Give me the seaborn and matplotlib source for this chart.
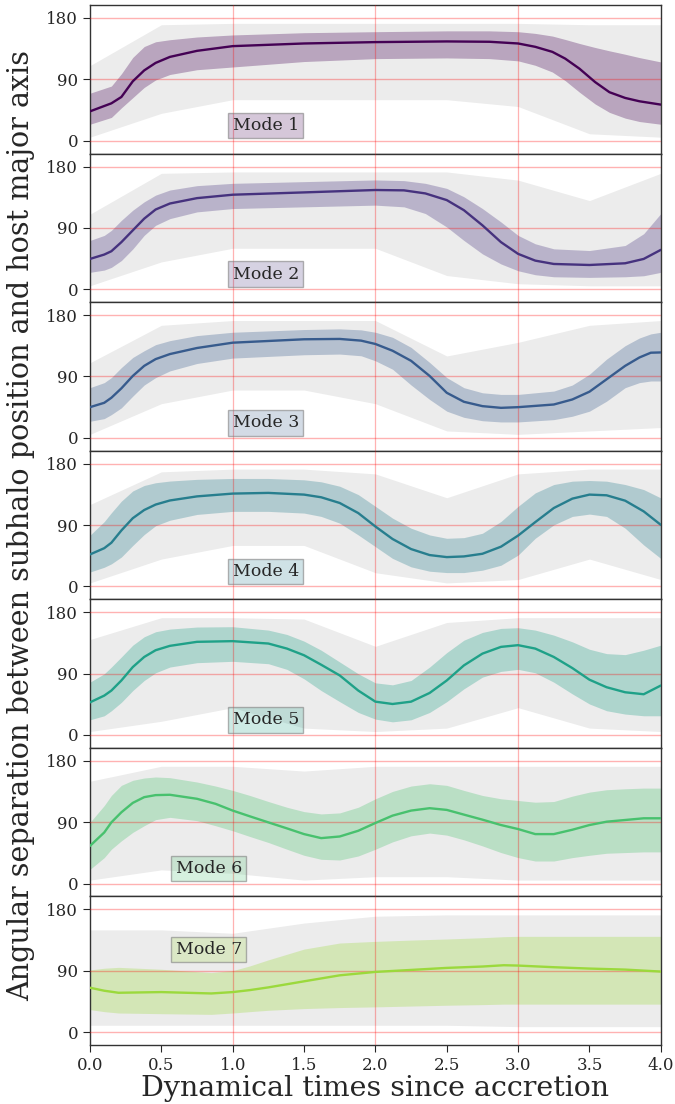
import numpy as np
import pandas as pd
import matplotlib
matplotlib.use("Agg")
import matplotlib.pyplot as plt
import seaborn as sns

# ---------------- data ----------------
MODE_NAMES = ["Mode 1", "Mode 2", "Mode 3", "Mode 4", "Mode 5", "Mode 6", "Mode 7"]

M1_T = [0, 0.15, 0.22, 0.3, 0.38, 0.46, 0.56, 0.75, 1, 1.5, 2, 2.5, 2.8, 3.0, 3.12, 3.24,
        3.33, 3.43, 3.54, 3.64, 3.75, 3.85, 4]
M1_MEAN = [42.9, 54.7, 64, 87, 103, 114, 122.8, 131.7, 138.6, 142.5, 144.5, 145.5, 145, 142.5,
           137.6, 130.2, 120.3, 105.5, 85.8, 71, 62.6, 57.7, 52.8]
M1_HI = [69.5, 80, 98, 122, 138, 145, 148, 152, 155, 158.3, 159.8, 161, 161, 159.8, 157.3,
         153.4, 148.4, 142.5, 136.6, 131.7, 126.7, 121.8, 115.4]
M1_LO = [24, 34, 48, 63, 78, 89, 97, 104, 108, 116, 120.3, 121.3, 120.3, 117, 110.5, 100.6,
         88, 71, 53.7, 41.4, 33, 28, 24]

M2_T = [0, 0.1, 0.15, 0.22, 0.3, 0.38, 0.46, 0.56, 0.75, 1, 1.5, 2, 2.2, 2.35, 2.5, 2.62,
        2.75, 2.88, 3.0, 3.12, 3.25, 3.5, 3.75, 3.88, 4]
M2_MEAN = [44.4, 50.8, 55.7, 69, 86.3, 103.5, 116.9, 125.7, 133.6, 138.6, 142, 145.5, 145,
           140.5, 130.7, 115.9, 93.7, 69, 51.8, 41.9, 37, 35.5, 38, 44.4, 57.7]
M2_HI = [71.5, 78.9, 86.3, 101, 115.9, 128.2, 138, 145.5, 151.9, 155.3, 157.8, 160.3, 159.3,
         155.3, 147.9, 135.6, 118.3, 98.6, 78.9, 66.6, 59.2, 56.7, 64.1, 81.4, 111]
M2_LO = [24.7, 28, 32, 42, 59, 79, 93.7, 103.5, 113.4, 118.3, 120.8, 123.3, 120.8, 111, 91.2,
         71.5, 51.8, 37, 27, 21.2, 18.2, 17.3, 18.2, 19.7, 24.7]

M3_T = [0, 0.1, 0.15, 0.22, 0.3, 0.38, 0.46, 0.56, 0.75, 1, 1.5, 1.75, 1.9, 2.0, 2.12, 2.25,
        2.38, 2.5, 2.62, 2.75, 2.88, 3.0, 3.25, 3.38, 3.5, 3.62, 3.75, 3.85, 3.93, 4]
M3_MEAN = [44.9, 51.3, 58.7, 72.5, 90.7, 105.5, 115.4, 122.8, 131.7, 139.5, 144.5, 145, 142.5,
           137.6, 127.7, 112.9, 90.7, 66, 52.8, 46.4, 43.9, 44.9, 48.8, 56.2, 67.6, 85.8,
           105.5, 117.8, 124.8, 125.2]
M3_HI = [73.5, 80.9, 88.3, 103, 117.8, 127.7, 136.6, 142.5, 149.9, 154.8, 158.8, 159.8, 158.3,
         154.8, 147.4, 132.6, 110.5, 88.3, 73.5, 66, 63.6, 63.6, 68.5, 77.4, 93.2, 115.4,
         135.1, 146.4, 152.4, 154.8]
M3_LO = [24.2, 28.1, 34, 43.9, 61.1, 77.4, 88.3, 98.1, 109, 116.9, 121.8, 122.8, 120.3, 112.9,
         100.6, 77.4, 56.2, 39, 30, 25, 23.2, 23.2, 26.6, 31.6, 39, 53.7, 73.5, 80.9, 83.3,
         83.3]

M4_T = [0, 0.1, 0.15, 0.22, 0.3, 0.38, 0.46, 0.56, 0.75, 1, 1.25, 1.5, 1.62, 1.75, 1.88, 2.0,
        2.12, 2.25, 2.38, 2.5, 2.62, 2.75, 2.88, 3.0, 3.12, 3.25, 3.38, 3.5, 3.62, 3.75, 3.88, 4]
M4_MEAN = [46.8, 56, 64, 82, 100, 112, 120, 126, 132, 136.1, 137.1, 134.6, 130.7, 122.3, 107.5,
           87.8, 69.5, 54.7, 45.9, 42.9, 43.9, 47.8, 58.2, 74.5, 94.2, 114.9, 128.7, 134.6,
           133.6, 125.7, 110, 90.2]
M4_HI = [75, 95, 108, 125, 140, 148, 152, 154.5, 157, 158.3, 158.3, 156.3, 153.4, 146.9, 134.6,
         117.4, 100.1, 85.3, 75.4, 70.5, 71.5, 77.9, 95.2, 117.4, 137.1, 149.4, 154.3, 155.3,
         154.3, 149.4, 142, 129.7]
M4_LO = [21, 28, 33, 43, 60, 76, 89, 97, 105.5, 110, 110, 107.5, 102.6, 92.7, 75.4, 58.2, 41,
         28.6, 22.2, 20.2, 20.2, 23.7, 31, 45.9, 70.5, 90.2, 102.6, 106, 102.6, 85.3, 60.7, 40.9]

M5_T = [0, 0.1, 0.15, 0.22, 0.3, 0.38, 0.46, 0.56, 0.75, 1, 1.25, 1.38, 1.5, 1.62, 1.75, 1.88,
        2.0, 2.12, 2.25, 2.38, 2.5, 2.62, 2.75, 2.88, 3.0, 3.12, 3.25, 3.38, 3.5, 3.62, 3.75,
        3.88, 4]
M5_MEAN = [47.8, 57.7, 65.1, 79.9, 99.6, 114.4, 124.3, 130.7, 136.6, 137.6, 134.1, 126.7, 116.9,
           103, 87.3, 65.1, 48.8, 45.4, 48.8, 61.6, 79.9, 102, 119.3, 129.2, 131.7, 126.7,
           114.4, 98.1, 81, 70, 62.6, 59.7, 72.5]
M5_HI = [77.4, 89.7, 99.6, 114.4, 131.7, 144, 151.4, 155.3, 158.3, 158.8, 153.8, 147.4, 137.6,
         124.3, 107, 89.7, 76.4, 73.5, 79.9, 99.6, 120.8, 139, 150.4, 156.3, 157.3, 153.8,
         146.4, 136.6, 125.7, 119.3, 117.8, 124.3, 131.7]
M5_LO = [22.2, 28.1, 35.5, 47.8, 65.1, 79.9, 91.2, 99.6, 106, 108, 104.5, 96.2, 82.3, 65.1,
         48.8, 33, 23.2, 19.2, 22.2, 33, 48.8, 67.6, 84.8, 93.2, 96.2, 91.2, 77.4, 60.2, 45.4,
         35.5, 30.6, 28.1, 28.1]

M6_T = [0, 0.1, 0.15, 0.22, 0.3, 0.38, 0.46, 0.56, 0.75, 0.88, 1.0, 1.12, 1.25, 1.38, 1.5,
        1.62, 1.75, 1.88, 2.0, 2.12, 2.25, 2.38, 2.5, 2.62, 2.75, 2.88, 3.0, 3.12, 3.25, 3.38,
        3.5, 3.62, 3.75, 3.88, 4]
M6_MEAN = [55.2, 74.9, 89.7, 104.5, 118.3, 126.7, 129.7, 130.2, 124.3, 116.9, 107, 98.6, 89.7,
           80.9, 72.5, 66.6, 69, 77.4, 88.8, 99.6, 107, 110.5, 108, 101.1, 93.7, 85.8, 79.9,
           72.5, 72.5, 78.9, 85.8, 90.7, 93.2, 95.7, 95.7]
M6_HI = [89.7, 114.4, 129.2, 144, 151.4, 154.8, 156.3, 155.3, 148.9, 143, 136.6, 129.2, 120.3,
         111.9, 105.5, 102.1, 103.6, 111.9, 124.3, 135.1, 143, 146.4, 144, 136.6, 129.2, 124.3,
         121.8, 119.3, 120.3, 128.2, 134.1, 137.6, 139, 140, 140]
M6_LO = [20.7, 38, 50.3, 62.6, 75, 84.8, 93.7, 97.1, 92.2, 84.8, 77.4, 69, 60.2, 50.3, 41.4,
         35.5, 34.5, 40.4, 50.3, 61.1, 70, 74, 71, 64.1, 55.2, 45.4, 38, 33, 33, 38, 41.4, 44.4,
         45.4, 46.4, 46.4]

M7_T = [0, 0.1, 0.2, 0.5, 0.85, 1, 1.12, 1.25, 1.5, 1.75, 2, 2.25, 2.5, 2.75, 2.9, 3, 3.25,
        3.5, 3.75, 4]
M7_MEAN = [65.1, 60.7, 57.7, 58.7, 56.7, 58.7, 61.6, 65.6, 74.5, 83.3, 88.3, 91.2, 94.2, 96.2,
           98.1, 97.6, 95.2, 93.2, 91.7, 88.8]
M7_HI = [91.2, 93.7, 95, 92.2, 87.3, 90.2, 97.1, 106, 121.8, 130.7, 133.1, 135, 136.6, 138.5,
         140, 140.5, 140.5, 140.5, 140.5, 140.5]
M7_LO = [33, 30, 28, 27, 26, 28, 30, 32, 34.5, 36, 37, 38.2, 39.4, 40.3, 41, 41, 41, 41, 41, 41]

# outer extent of the grey individual tracks
ENV_T = [0, 0.5, 1, 1.5, 2, 2.5, 3, 3.5, 4]
E1_HI = [110, 170, 172, 172, 172, 172, 172, 170, 170]
E1_LO = [5, 40, 60, 60, 60, 60, 50, 10, 5]
E2_HI = [110, 170, 172, 172, 172, 172, 160, 130, 170]
E2_LO = [5, 40, 60, 60, 60, 20, 8, 5, 5]
E3_HI = [110, 165, 172, 172, 172, 120, 140, 165, 172]
E3_LO = [5, 50, 70, 70, 50, 10, 5, 10, 15]
E4_HI = [120, 168, 172, 172, 165, 130, 165, 172, 172]
E4_LO = [5, 40, 60, 60, 20, 5, 10, 40, 10]
E5_HI = [140, 172, 172, 170, 130, 165, 172, 172, 172]
E5_LO = [5, 20, 40, 10, 5, 10, 40, 10, 5]
E6_HI = [150, 172, 172, 165, 172, 172, 172, 172, 172]
E6_LO = [5, 20, 15, 5, 10, 10, 5, 5, 5]
E7_HI = [150, 150, 145, 160, 170, 172, 172, 172, 172]
E7_LO = [10, 10, 10, 10, 10, 10, 8, 8, 8]

LABEL_X = [1.0, 1.0, 1.0, 1.0, 1.0, 0.6, 0.6]
LABEL_Y = [22, 22, 22, 22, 22, 22, 121]

Y_TICKS = [0, 90, 180]
X_TICKS = [0.0, 0.5, 1.0, 1.5, 2.0, 2.5, 3.0, 3.5, 4.0]

MODES = [
    (M1_T, M1_MEAN, M1_LO, M1_HI, E1_LO, E1_HI),
    (M2_T, M2_MEAN, M2_LO, M2_HI, E2_LO, E2_HI),
    (M3_T, M3_MEAN, M3_LO, M3_HI, E3_LO, E3_HI),
    (M4_T, M4_MEAN, M4_LO, M4_HI, E4_LO, E4_HI),
    (M5_T, M5_MEAN, M5_LO, M5_HI, E5_LO, E5_HI),
    (M6_T, M6_MEAN, M6_LO, M6_HI, E6_LO, E6_HI),
    (M7_T, M7_MEAN, M7_LO, M7_HI, E7_LO, E7_HI),
]

# ---------------- style ----------------
sns.set_style("ticks")
plt.rcParams['font.family'] = ['DejaVu Serif']
plt.rcParams['axes.edgecolor'] = '#333333'
plt.rcParams['axes.linewidth'] = 1.0

cmap = plt.get_cmap('viridis')
colors = [cmap(v) for v in np.linspace(0, 0.85, 7)]

fig, axes = plt.subplots(7, 1, figsize=(6.75, 11.04), dpi=100, sharex=True)
fig.subplots_adjust(left=0.1333, right=0.979, top=0.9955, bottom=0.0534, hspace=0)

for i, ax in enumerate(axes):
    t, mean, lo, hi, elo, ehi = MODES[i]
    c = colors[i]
    ax.fill_between(ENV_T, elo, ehi, color='0.5', alpha=0.15, lw=0, zorder=1)
    ax.fill_between(t, lo, hi, color=c, alpha=0.3, lw=0, zorder=2)
    df = pd.DataFrame({"t": t, "mean": mean})
    sns.lineplot(data=df, x="t", y="mean", ax=ax, color=c, lw=1.7, zorder=4)
    for yv in Y_TICKS:
        ax.axhline(yv, color='red', alpha=0.3, lw=1.0, zorder=3)
    for xv in (1, 2, 3):
        ax.axvline(xv, color='red', alpha=0.3, lw=0.9, zorder=3)
    ax.text(LABEL_X[i], LABEL_Y[i], MODE_NAMES[i], fontsize=12.5, va='center', ha='left',
            zorder=5,
            bbox=dict(boxstyle='square,pad=0.25', facecolor=(*c[:3], 0.22),
                      edgecolor=(0.5, 0.5, 0.5, 0.6), lw=1))
    ax.set_ylim(-19, 199)
    ax.set_xlim(0, 4)
    ax.set_yticks(Y_TICKS)
    ax.set_ylabel("")
    ax.set_xlabel("")
    ax.tick_params(axis='y', labelsize=12, length=5, direction='out')
    if i < 6:
        ax.tick_params(axis='x', length=0, labelbottom=False)

axes[-1].set_xticks(X_TICKS)
axes[-1].set_xticklabels([f"{v:.1f}" for v in X_TICKS])
axes[-1].tick_params(axis='x', labelsize=12, length=5)
axes[-1].set_xlabel("Dynamical times since accretion", fontsize=20.5, labelpad=1)

fig.text(0.032, 0.524, "Angular separation between subhalo position and host major axis",
         rotation=90, va='center', ha='center', fontsize=20.6)

fig.savefig("out.png", dpi=100)
